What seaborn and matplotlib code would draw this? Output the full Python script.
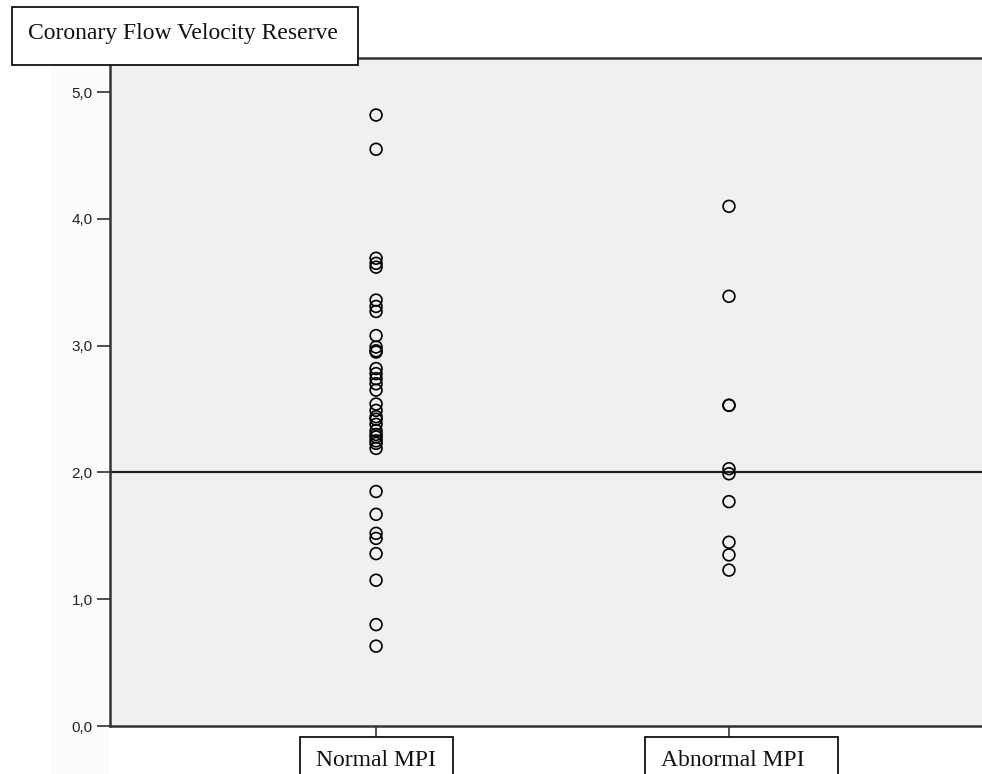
import seaborn as sns
import matplotlib.pyplot as plt
import matplotlib.patches as mpatches
import pandas as pd

# values
normal_mpi = [4.82, 4.55, 3.69, 3.65, 3.62, 3.36, 3.31, 3.27, 3.08, 2.99, 2.96, 2.95,
              2.82, 2.78, 2.74, 2.70, 2.65, 2.54, 2.49, 2.44, 2.42, 2.38, 2.33, 2.30,
              2.28, 2.25, 2.23, 2.19, 1.85, 1.67, 1.52, 1.48, 1.36, 1.15, 0.80, 0.63]
abnormal_mpi = [4.10, 3.39, 2.53, 2.53, 2.03, 1.99, 1.77, 1.45, 1.35, 1.23]
groups = ['Normal MPI', 'Abnormal MPI']
yticks = [0, 1, 2, 3, 4, 5]
cutoff = 2.0

df = pd.DataFrame({
    'group': [groups[0]] * len(normal_mpi) + [groups[1]] * len(abnormal_mpi),
    'cfvr': normal_mpi + abnormal_mpi,
})

sns.set_style('white')
plt.rcParams['font.family'] = ['Liberation Sans', 'DejaVu Sans']

W, H = 982, 774
fig = plt.figure(figsize=(W / 100, H / 100), dpi=100)

# slight grey strip left of the axis
fig.patches.append(mpatches.Rectangle((50 / W, 0), 60 / W, 1 - 58 / H,
                                      transform=fig.transFigure,
                                      facecolor='#fcfcfc', edgecolor='none', zorder=-5))

ax = fig.add_axes([110 / W, 48 / H, 872 / W, (726 - 58) / H])
ax.set_facecolor('#f0f0f0')

sns.stripplot(data=df, x='group', y='cfvr', order=groups, jitter=False,
              color='black', marker='o', size=8.5, linewidth=1.2,
              edgecolor='black', ax=ax, zorder=3)
for coll in ax.collections:
    coll.set_facecolor('none')
    coll.set_edgecolor('black')

ax.axhline(cutoff, color='#222222', lw=1.6, zorder=2)

ax.set_xlim(-0.754, 1.717)
ax.set_ylim(0, 5.27)
ax.set_yticks(yticks)
ax.set_yticklabels([f'{v:.1f}'.replace('.', ',') for v in yticks],
                   fontsize=11, color='#222222')
ax.set_xticks([0, 1])
ax.set_xticklabels([])
ax.set_xlabel('')
ax.set_ylabel('')
ax.tick_params(axis='y', direction='out', length=9.5, width=1.2, color='#333333', pad=3, left=True)
ax.tick_params(axis='x', direction='out', length=8, width=1.2, color='#333333', bottom=True)

for side in ['left', 'bottom', 'top']:
    ax.spines[side].set_color('#333333')
    ax.spines[side].set_linewidth(1.8)
ax.spines['right'].set_visible(False)

# title box in the top left corner
fig.patches.append(mpatches.Rectangle((12 / W, 1 - 65 / H), 346 / W, 58 / H,
                                      transform=fig.transFigure, facecolor='white',
                                      edgecolor='#111111', lw=1.3, zorder=5))
fig.text(28 / W, 1 - 33 / H, 'Coronary Flow Velocity Reserve', family='Liberation Serif',
         fontsize=17, ha='left', va='center', color='#111111', zorder=6)

# group label boxes under the axis
for lab, x0, x1 in [(groups[0], 300, 453), (groups[1], 645, 838)]:
    fig.patches.append(mpatches.Rectangle((x0 / W, -0.05), (x1 - x0) / W, 0.05 + 1 - 737 / H,
                                          transform=fig.transFigure, facecolor='white',
                                          edgecolor='#111111', lw=1.3, zorder=5))
    fig.text((x0 + 16) / W, 1 - 760 / H, lab, family='Liberation Serif',
             fontsize=17, ha='left', va='center', color='#111111', zorder=6)

fig.savefig('out.png', dpi=100)
